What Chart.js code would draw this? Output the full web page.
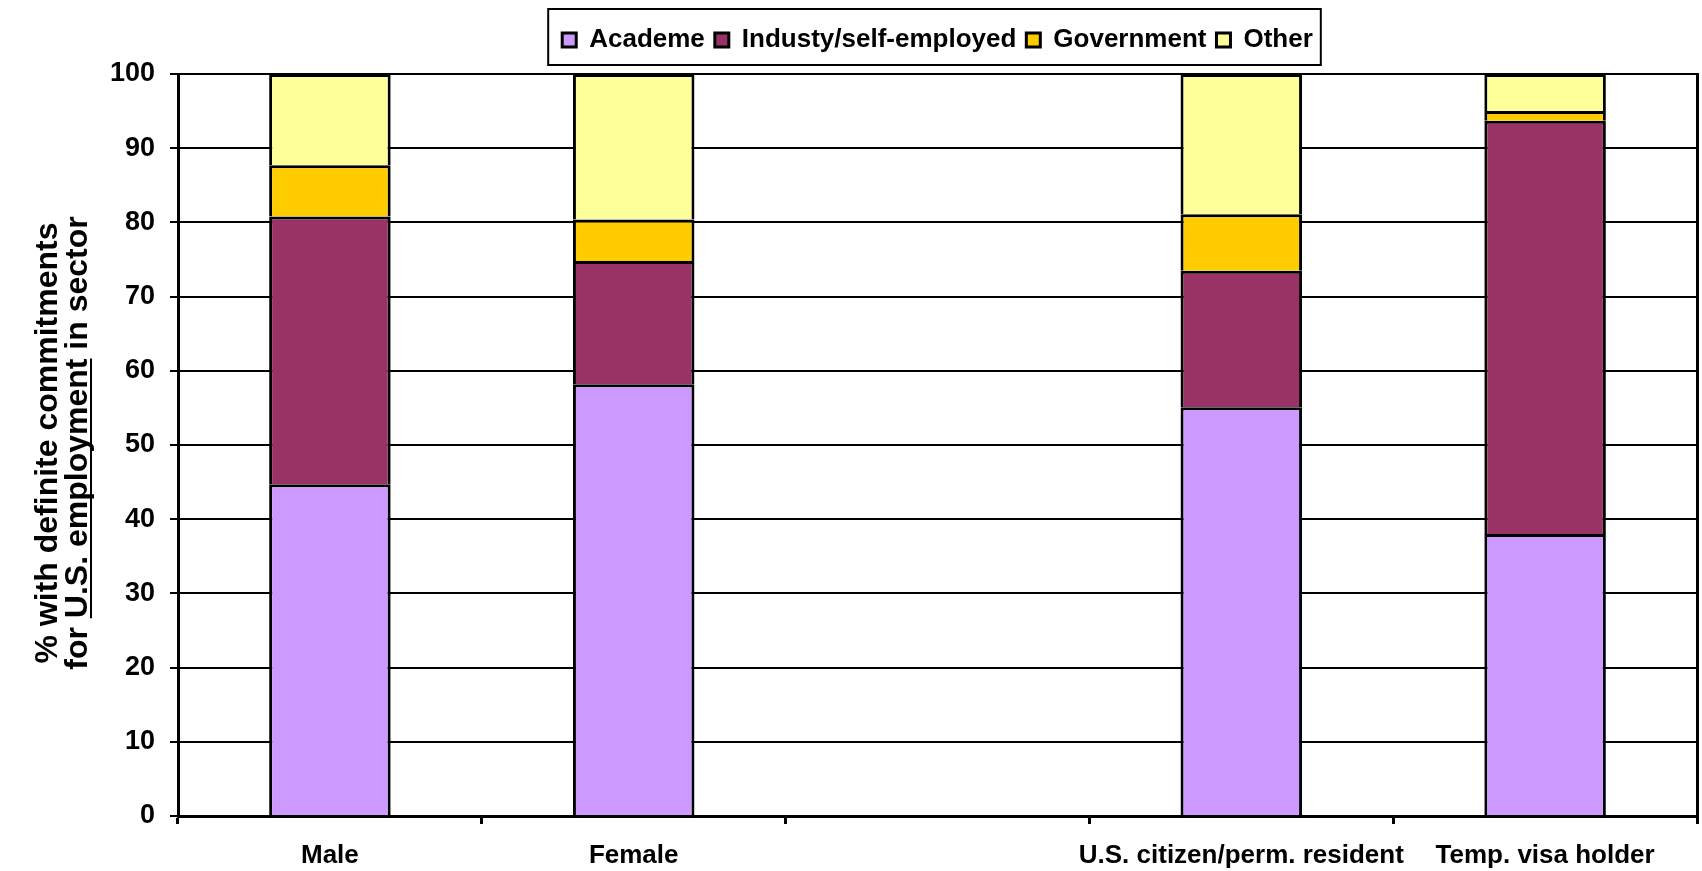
<!DOCTYPE html>
<html>
<head>
<meta charset="utf-8">
<script src="https://cdn.jsdelivr.net/npm/chart.js@4.4.1/dist/chart.umd.min.js"></script>
<style>
  body { margin: 0; background: #fff; }
  #wrap { width: 1702px; height: 871px; position: relative; }
</style>
</head>
<body>
<div id="wrap"><canvas id="sectorChart"></canvas></div>
<script>
// --- data ---
const categories = ['Male', 'Female', '', 'U.S. citizen/perm. resident', 'Temp. visa holder'];
const academe    = [44.7, 58.2, null, 55.1, 38.0];
const industry   = [36.1, 16.6, null, 18.4, 55.7];
const government = [6.9, 5.6, null, 7.6, 1.3];
const other      = [12.3, 19.6, null, 18.9, 5.0];
const yTicks = [0, 10, 20, 30, 40, 50, 60, 70, 80, 90, 100];

const FONT = 'Arial, "Liberation Sans", sans-serif';

// y axis title, two lines, part of line 2 underlined
const yTitlePlugin = {
    id: 'yTitle',
    afterDraw(chart) {
        const ctx = chart.ctx;
        const cy = (chart.chartArea.top + chart.chartArea.bottom) / 2 - 2;
        ctx.save();
        ctx.fillStyle = '#000';
        ctx.strokeStyle = '#000';
        ctx.font = 'bold 32px ' + FONT;
        ctx.textBaseline = 'alphabetic';
        ctx.textAlign = 'left';

        // line 1
        ctx.save();
        ctx.translate(57, cy);
        ctx.rotate(-Math.PI / 2);
        let w = ctx.measureText('% with definite commitments').width;
        ctx.fillText('% with definite commitments', -w / 2, 0);
        ctx.restore();

        // line 2
        ctx.save();
        ctx.translate(87, cy);
        ctx.rotate(-Math.PI / 2);
        const line2 = 'for U.S. employment in sector';
        w = ctx.measureText(line2).width;
        ctx.fillText(line2, -w / 2, 0);
        const start = -w / 2 + ctx.measureText('for ').width;
        const len = ctx.measureText('U.S. employment').width;
        ctx.lineWidth = 2;
        ctx.beginPath();
        ctx.moveTo(start, 4);
        ctx.lineTo(start + len, 4);
        ctx.stroke();
        ctx.restore();

        ctx.restore();
    }
};

// frame around the legend
const legendFramePlugin = {
    id: 'legendFrame',
    afterDraw(chart) {
        const lg = chart.legend;
        if (!lg || !lg.legendHitBoxes.length) return;
        const boxes = lg.legendHitBoxes;
        const left = boxes[0].left - 14;
        const last = boxes[boxes.length - 1];
        const right = last.left + last.width + 8;
        const mid = boxes[0].top + boxes[0].height / 2;
        const ctx = chart.ctx;
        ctx.save();
        ctx.strokeStyle = '#000';
        ctx.lineWidth = 2;
        ctx.strokeRect(left, mid - 31, right - left, 56);
        ctx.restore();
    }
};

const ctx = document.getElementById('sectorChart').getContext('2d');
const sectorChart = new Chart(ctx, {
    type: 'bar',
    data: {
        labels: categories,
        datasets: [
            { label: 'Academe', data: academe, backgroundColor: '#CC99FF' },
            { label: 'Industy/self-employed', data: industry, backgroundColor: '#993366' },
            { label: 'Government', data: government, backgroundColor: '#FFCC00' },
            { label: 'Other', data: other, backgroundColor: '#FFFF99' }
        ]
    },
    options: {
        responsive: true,
        maintainAspectRatio: false,
        animation: false,
        layout: { padding: { top: 17, left: 0, right: 0, bottom: 0 } },
        datasets: {
            bar: {
                borderColor: '#000',
                borderWidth: 3,
                borderSkipped: 'start',
                barPercentage: 0.4,
                categoryPercentage: 1.0
            }
        },
        plugins: {
            legend: {
                position: 'top',
                fullSize: false,
                labels: {
                    color: '#000',
                    font: { family: FONT, size: 26, weight: 'bold' },
                    boxWidth: 14,
                    boxHeight: 14,
                    padding: 10
                }
            },
            tooltip: { enabled: false }
        },
        scales: {
            x: {
                stacked: true,
                offset: true,
                afterFit: s => { s.height = 55; },
                grid: {
                    offset: true,
                    drawOnChartArea: false,
                    drawTicks: true,
                    tickLength: 8,
                    color: '#000',
                    lineWidth: 3
                },
                border: { color: '#000', width: 3 },
                ticks: {
                    color: '#000',
                    padding: 16,
                    maxRotation: 0,
                    autoSkip: false,
                    font: { family: FONT, size: 26, weight: 'bold' }
                }
            },
            xTop: {
                type: 'category',
                position: 'top',
                afterFit: s => { s.height = 11; },
                grid: { display: false },
                border: { display: false },
                ticks: { display: false }
            },
            y: {
                stacked: true,
                min: 0,
                max: 100,
                afterFit: s => { s.width = 178; },
                afterBuildTicks: s => { s.ticks = yTicks.map(v => ({ value: v })); },
                grid: {
                    color: '#000',
                    lineWidth: 2,
                    tickLength: 8
                },
                border: { color: '#000', width: 3 },
                ticks: {
                    color: '#000',
                    padding: 15,
                    font: { family: FONT, size: 27, weight: 'bold' }
                }
            },
            yRight: {
                position: 'right',
                min: 0,
                max: 100,
                afterFit: s => { s.width = 5; },
                grid: { drawOnChartArea: false, drawTicks: false },
                border: { color: '#000', width: 3 },
                ticks: { display: false }
            }
        }
    },
    plugins: [yTitlePlugin, legendFramePlugin]
});
</script>
</body>
</html>
